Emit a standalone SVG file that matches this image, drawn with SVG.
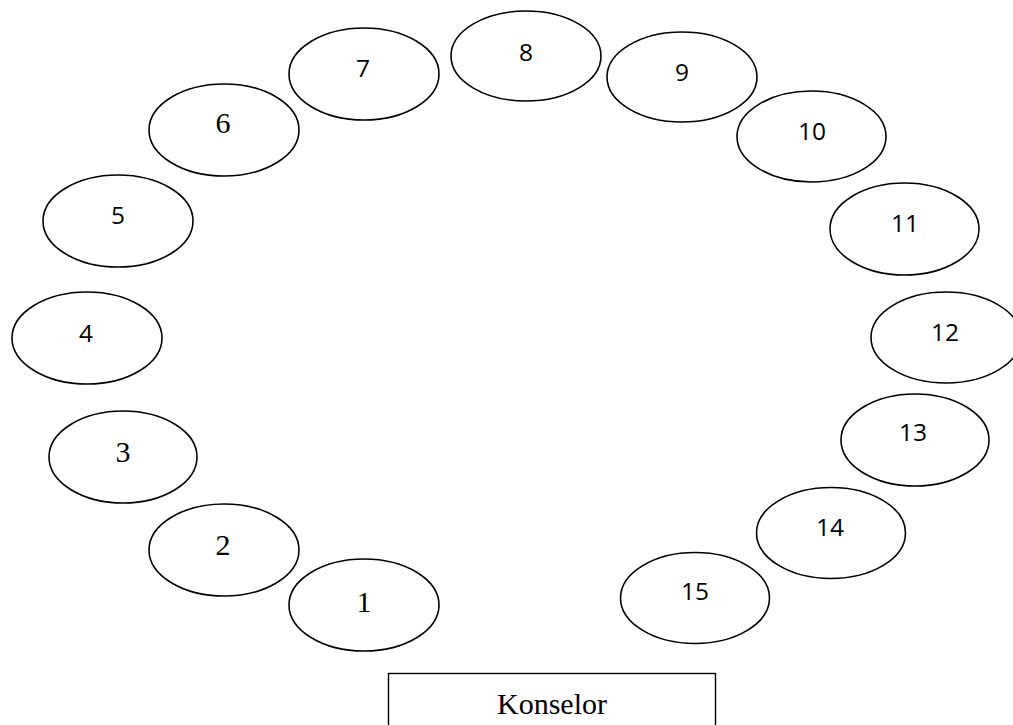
<svg xmlns="http://www.w3.org/2000/svg" width="1013" height="725" viewBox="0 0 1013 725">
<style>
ellipse{fill:#fff;stroke:#000;stroke-width:1.6}
.s{font-family:"Open Sans","Liberation Sans",sans-serif;font-size:24.5px;text-anchor:middle;fill:#000}
.r{font-family:"Liberation Serif","Times New Roman",serif;font-size:30px;text-anchor:middle;fill:#000}
</style>
<rect width="1013" height="725" fill="#fff"/>
<g id="node1"><ellipse cx="364" cy="605" rx="75" ry="46"/><text class="r" x="364" y="612">1</text></g>
<g id="node2"><ellipse cx="224" cy="550" rx="75" ry="46"/><text class="r" x="223" y="555">2</text></g>
<g id="node3"><ellipse cx="123" cy="457" rx="74" ry="46"/><text class="r" x="123" y="462">3</text></g>
<g id="node4"><ellipse cx="87" cy="338" rx="75" ry="46"/><text class="s" x="86" y="342">4</text></g>
<g id="node5"><ellipse cx="118" cy="221" rx="75" ry="46"/><text class="s" x="118" y="224">5</text></g>
<g id="node6"><ellipse cx="224" cy="130" rx="75" ry="46"/><text class="r" x="223" y="133">6</text></g>
<g id="node7"><ellipse cx="364" cy="74" rx="75" ry="46"/><text class="s" x="363" y="77">7</text></g>
<g id="node8"><ellipse cx="526" cy="56" rx="75" ry="45"/><text class="s" x="526" y="61">8</text></g>
<g id="node9"><ellipse cx="682" cy="77" rx="75" ry="45"/><text class="s" x="682" y="81">9</text></g>
<g id="node10"><ellipse cx="811.5" cy="136.5" rx="74.5" ry="45.5"/><text class="s" x="812" y="140">10</text></g>
<g id="node11"><ellipse cx="904.5" cy="229" rx="74.5" ry="46"/><text class="s" x="905" y="232">11</text></g>
<g id="node12"><ellipse cx="946" cy="337.5" rx="75" ry="45.5"/><text class="s" x="945" y="341">12</text></g>
<g id="node13"><ellipse cx="915" cy="440" rx="74" ry="46"/><text class="s" x="913" y="441">13</text></g>
<g id="node14"><ellipse cx="831" cy="533" rx="74.5" ry="45.5"/><text class="s" x="830" y="536">14</text></g>
<g id="node15"><ellipse cx="695" cy="598" rx="74.5" ry="45.5"/><text class="s" x="695" y="600">15</text></g>
<g id="konselor"><rect x="388.5" y="673.5" width="327" height="60" fill="#fff" stroke="#000" stroke-width="1.4"/><text class="r" x="552" y="714">Konselor</text></g>
<g id="connectors"></g>
</svg>
